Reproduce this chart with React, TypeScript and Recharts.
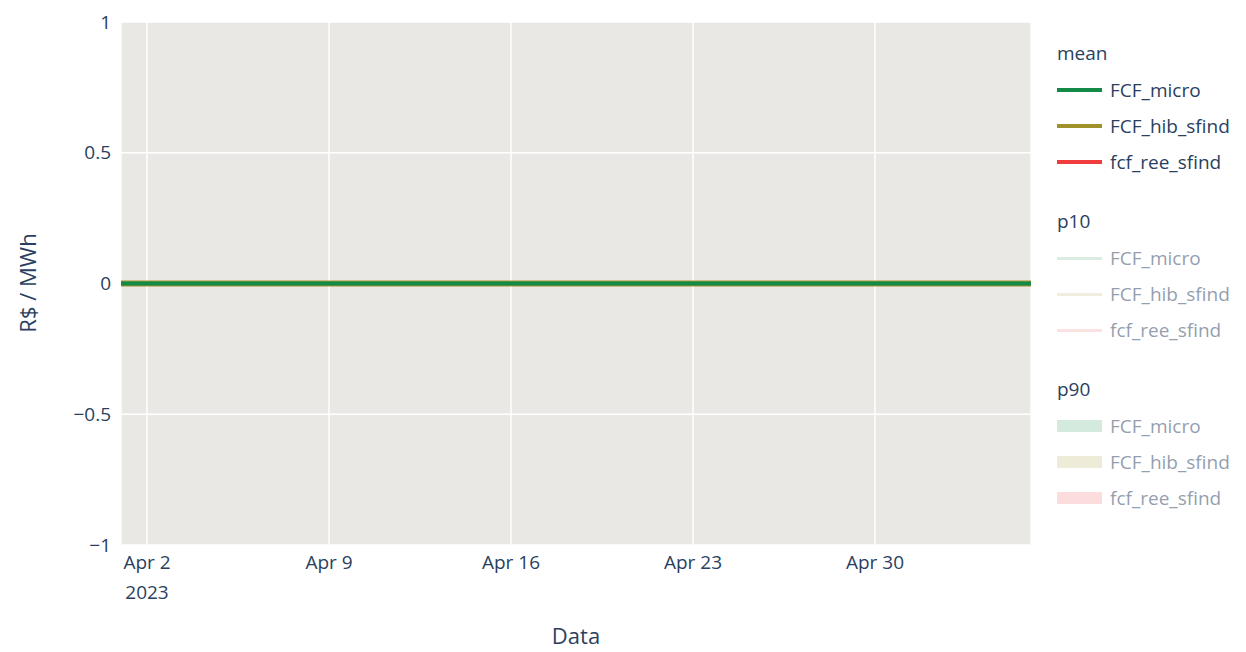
import { ComposedChart, Line, Area, XAxis, YAxis, CartesianGrid } from "recharts";

const DATES = [
  "2023-04-01", "2023-04-02", "2023-04-03", "2023-04-04", "2023-04-05", "2023-04-06",
  "2023-04-07", "2023-04-08", "2023-04-09", "2023-04-10", "2023-04-11", "2023-04-12",
  "2023-04-13", "2023-04-14", "2023-04-15", "2023-04-16", "2023-04-17", "2023-04-18",
  "2023-04-19", "2023-04-20", "2023-04-21", "2023-04-22", "2023-04-23", "2023-04-24",
  "2023-04-25", "2023-04-26", "2023-04-27", "2023-04-28", "2023-04-29", "2023-04-30",
  "2023-05-01", "2023-05-02", "2023-05-03", "2023-05-04", "2023-05-05", "2023-05-06",
];

// every series sits flat on zero in the reference
const MICRO_MEAN = [0, 0, 0, 0, 0, 0, 0, 0, 0, 0, 0, 0, 0, 0, 0, 0, 0, 0, 0, 0, 0, 0, 0, 0, 0, 0, 0, 0, 0, 0, 0, 0, 0, 0, 0, 0];
const HIB_MEAN = [0, 0, 0, 0, 0, 0, 0, 0, 0, 0, 0, 0, 0, 0, 0, 0, 0, 0, 0, 0, 0, 0, 0, 0, 0, 0, 0, 0, 0, 0, 0, 0, 0, 0, 0, 0];
const REE_MEAN = [0, 0, 0, 0, 0, 0, 0, 0, 0, 0, 0, 0, 0, 0, 0, 0, 0, 0, 0, 0, 0, 0, 0, 0, 0, 0, 0, 0, 0, 0, 0, 0, 0, 0, 0, 0];
const MICRO_P10 = [0, 0, 0, 0, 0, 0, 0, 0, 0, 0, 0, 0, 0, 0, 0, 0, 0, 0, 0, 0, 0, 0, 0, 0, 0, 0, 0, 0, 0, 0, 0, 0, 0, 0, 0, 0];
const HIB_P10 = [0, 0, 0, 0, 0, 0, 0, 0, 0, 0, 0, 0, 0, 0, 0, 0, 0, 0, 0, 0, 0, 0, 0, 0, 0, 0, 0, 0, 0, 0, 0, 0, 0, 0, 0, 0];
const REE_P10 = [0, 0, 0, 0, 0, 0, 0, 0, 0, 0, 0, 0, 0, 0, 0, 0, 0, 0, 0, 0, 0, 0, 0, 0, 0, 0, 0, 0, 0, 0, 0, 0, 0, 0, 0, 0];
const MICRO_P90 = [0, 0, 0, 0, 0, 0, 0, 0, 0, 0, 0, 0, 0, 0, 0, 0, 0, 0, 0, 0, 0, 0, 0, 0, 0, 0, 0, 0, 0, 0, 0, 0, 0, 0, 0, 0];
const HIB_P90 = [0, 0, 0, 0, 0, 0, 0, 0, 0, 0, 0, 0, 0, 0, 0, 0, 0, 0, 0, 0, 0, 0, 0, 0, 0, 0, 0, 0, 0, 0, 0, 0, 0, 0, 0, 0];
const REE_P90 = [0, 0, 0, 0, 0, 0, 0, 0, 0, 0, 0, 0, 0, 0, 0, 0, 0, 0, 0, 0, 0, 0, 0, 0, 0, 0, 0, 0, 0, 0, 0, 0, 0, 0, 0, 0];

const X_TICKS = ["2023-04-02", "2023-04-09", "2023-04-16", "2023-04-23", "2023-04-30"];
const Y_TICKS = [-1, -0.5, 0, 0.5, 1];

const SERIES = ["FCF_micro", "FCF_hib_sfind", "fcf_ree_sfind"];
const COLORS = ["#138a48", "#a0922a", "#f03c3c"];
const GROUPS = ["mean", "p10", "p90"];

const MONTHS = ["Jan", "Feb", "Mar", "Apr", "May", "Jun", "Jul", "Aug", "Sep", "Oct", "Nov", "Dec"];
const FONT = "'Open Sans', sans-serif";
const INK = "#2a3f5f";

const toTs = (d: string) => {
  const [y, m, day] = d.split("-").map(Number);
  return Date.UTC(y, m - 1, day);
};

const data = DATES.map((d, i) => ({
  t: toTs(d),
  micro_mean: MICRO_MEAN[i],
  hib_mean: HIB_MEAN[i],
  ree_mean: REE_MEAN[i],
  micro_p10: MICRO_P10[i],
  hib_p10: HIB_P10[i],
  ree_p10: REE_P10[i],
  micro_band: [MICRO_P10[i], MICRO_P90[i]],
  hib_band: [HIB_P10[i], HIB_P90[i]],
  ree_band: [REE_P10[i], REE_P90[i]],
}));

const XTick = ({ x, y, payload, index }: any) => {
  const d = new Date(payload.value);
  const label = `${MONTHS[d.getUTCMonth()]} ${d.getUTCDate()}`;
  return (
    <g>
      <text x={x} y={y + 16} textAnchor="middle" fill={INK} fontSize={19} fontFamily={FONT}>
        {label}
      </text>
      {index === 0 && (
        <text x={x} y={y + 46} textAnchor="middle" fill={INK} fontSize={19} fontFamily={FONT}>
          {d.getUTCFullYear()}
        </text>
      )}
    </g>
  );
};

const fmtY = (v: number) => (v < 0 ? `\u2212${Math.abs(v)}` : `${v}`);

const GroupedLegend = () => (
  <div style={{ position: "absolute", left: 1057, top: 35, fontFamily: FONT, fontSize: 19, color: INK }}>
    {GROUPS.map((g, gi) => (
      <div key={g} style={{ marginBottom: gi < 2 ? 23 : 0 }}>
        <div style={{ height: 37, lineHeight: "37px" }}>{g}</div>
        {SERIES.map((s, si) => (
          <div key={s} style={{ display: "flex", alignItems: "center", height: 36, opacity: gi === 0 ? 1 : 0.5 }}>
            <div
              style={{
                width: 45,
                height: gi === 2 ? 12 : gi === 0 ? 4 : 3,
                background: COLORS[si],
                opacity: gi === 0 ? 1 : gi === 1 ? 0.3 : 0.35,
                marginRight: 8,
              }}
            />
            <span>{s}</span>
          </div>
        ))}
      </div>
    ))}
  </div>
);

const YTitle = () => (
  <text x={36} y={283} transform="rotate(-90 36 283)" textAnchor="middle" fill={INK} fontSize={22} fontFamily={FONT}>
    R$ / MWh
  </text>
);

export default function App() {
  return (
    <div style={{ position: "absolute", left: 0, top: 0, width: 1246, height: 652, background: "#fff" }}>
      <ComposedChart width={1246} height={652} data={data} margin={{ top: 22, right: 215, left: 0, bottom: 0 }}>
        <CartesianGrid fill="#e9e8e4" stroke="#ffffff" strokeWidth={1.5} />
        <XAxis
          dataKey="t"
          type="number"
          scale="time"
          domain={["dataMin", "dataMax"]}
          ticks={X_TICKS.map(toTs)}
          tick={<XTick />}
          tickLine={false}
          axisLine={false}
          height={107}
        />
        <YAxis
          domain={[-1, 1]}
          ticks={Y_TICKS}
          tickFormatter={fmtY}
          tickLine={false}
          axisLine={false}
          width={121}
          tickMargin={4}
          tick={{ fill: INK, fontSize: 19, fontFamily: FONT }}
        />
        <Area dataKey="micro_band" stroke="none" fill={COLORS[0]} fillOpacity={0.2} isAnimationActive={false} />
        <Area dataKey="hib_band" stroke="none" fill={COLORS[1]} fillOpacity={0.2} isAnimationActive={false} />
        <Area dataKey="ree_band" stroke="none" fill={COLORS[2]} fillOpacity={0.2} isAnimationActive={false} />
        <Line dataKey="micro_p10" stroke={COLORS[0]} strokeOpacity={0.15} strokeWidth={2} dot={false} isAnimationActive={false} />
        <Line dataKey="hib_p10" stroke={COLORS[1]} strokeOpacity={0.15} strokeWidth={2} dot={false} isAnimationActive={false} />
        <Line dataKey="ree_p10" stroke={COLORS[2]} strokeOpacity={0.15} strokeWidth={2} dot={false} isAnimationActive={false} />
        <Line dataKey="ree_mean" stroke={COLORS[2]} strokeWidth={4} dot={false} isAnimationActive={false} />
        <Line dataKey="hib_mean" stroke={COLORS[1]} strokeWidth={6} dot={false} isAnimationActive={false} />
        <Line dataKey="micro_mean" stroke={COLORS[0]} strokeWidth={4} dot={false} isAnimationActive={false} />
        <YTitle />
        <text x={576} y={644} textAnchor="middle" fill={INK} fontSize={22} fontFamily={FONT}>
          Data
        </text>
      </ComposedChart>
      <GroupedLegend />
    </div>
  );
}
